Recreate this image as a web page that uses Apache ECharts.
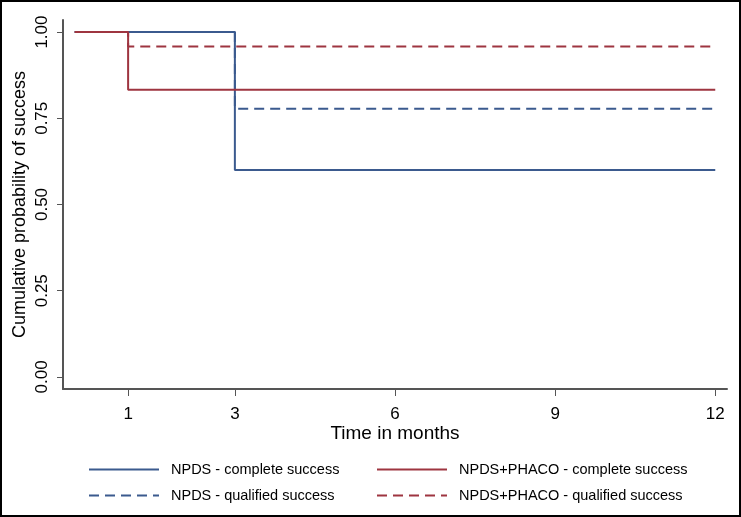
<!DOCTYPE html>
<html>
<head>
<meta charset="utf-8">
<script src="https://cdn.jsdelivr.net/npm/echarts@6/dist/echarts.min.js"></script>
<style>
html,body{margin:0;padding:0;background:#fff;}
#c{width:741px;height:517px;}
</style>
</head>
<body>
<div id="c"></div>
<script>
// Data (Kaplan-Meier step points: [time in months, probability])
const seriesNames = [
  'NPDS - complete success',
  'NPDS+PHACO - complete success',
  'NPDS - qualified success',
  'NPDS+PHACO - qualified success'
];
const npdsCompleteTimes = [0, 3, 12];
const npdsCompleteVals = [1.0, 0.600, 0.600];
const phacoCompleteTimes = [0, 1, 12];
const phacoCompleteVals = [1.0, 0.833, 0.833];
const npdsQualifiedTimes = [0, 3, 12];
const npdsQualifiedVals = [1.0, 0.778, 0.778];
const phacoQualifiedTimes = [0, 1, 12];
const phacoQualifiedVals = [1.0, 0.958, 0.958];
const xTicks = [1, 3, 6, 9, 12];
const yTicks = [0, 0.25, 0.5, 0.75, 1];

const BLUE = '#3b5a8e';
const RED = '#9e3540';
const FONT = 'Liberation Sans, Arial, sans-serif';

function pairs(t, v) { return t.map((x, i) => [x, v[i]]); }

function mkSeries(name, t, v, color, dashed) {
  return {
    name: name,
    type: 'line',
    step: 'end',
    symbol: 'none',
    showSymbol: false,
    silent: true,
    animation: false,
    data: pairs(t, v),
    lineStyle: { color: color, width: 2, type: dashed ? [10, 6] : 'solid' },
    itemStyle: { color: color }
  };
}

function mkLegend(name, left, top) {
  return {
    data: [name],
    left: left,
    top: top,
    itemWidth: 70,
    itemHeight: 14,
    selectedMode: false,
    padding: 0,
    itemStyle: { opacity: 0 },
    textStyle: { fontFamily: FONT, fontSize: 14.5, color: '#000', padding: [0, 0, 0, 7] }
  };
}

const chart = echarts.init(document.getElementById('c'), null, { renderer: 'canvas' });
chart.setOption({
  backgroundColor: '#fff',
  animation: false,
  grid: { left: 63, right: 14, top: 20, bottom: 128, containLabel: false },
  xAxis: {
    type: 'value',
    min: -0.22,
    max: 12.22,
    name: 'Time in months',
    nameLocation: 'middle',
    nameGap: 35,
    nameMoveOverlap: false,
    nameTextStyle: { fontFamily: FONT, fontSize: 19, color: '#000' },
    axisLine: { show: true, onZero: false, lineStyle: { color: '#555', width: 2 } },
    axisTick: { show: true, length: 7, customValues: xTicks, lineStyle: { color: '#555', width: 1 } },
    axisLabel: { customValues: xTicks, margin: 17, fontFamily: FONT, fontSize: 17, color: '#000' },
    splitLine: { show: false }
  },
  yAxis: {
    type: 'value',
    min: -0.035,
    max: 1.035,
    name: 'Cumulative probability of success',
    nameLocation: 'middle',
    nameGap: 34,
    nameMoveOverlap: false,
    nameTextStyle: { fontFamily: FONT, fontSize: 18, color: '#000' },
    axisLine: { show: true, onZero: false, lineStyle: { color: '#555', width: 2 } },
    axisTick: { show: true, length: 6, customValues: yTicks, lineStyle: { color: '#555', width: 1 } },
    axisLabel: {
      customValues: yTicks, rotate: 90, margin: 12,
      fontFamily: FONT, fontSize: 17, color: '#000',
      formatter: v => Number(v).toFixed(2)
    },
    splitLine: { show: false }
  },
  legend: [
    mkLegend(seriesNames[0], 88, 462),
    mkLegend(seriesNames[1], 376, 462),
    mkLegend(seriesNames[2], 88, 488),
    mkLegend(seriesNames[3], 376, 488)
  ],
  graphic: [{
    type: 'rect',
    shape: { x: 1, y: 1, width: 739, height: 515 },
    style: { fill: null, stroke: '#000', lineWidth: 2 },
    silent: true,
    z: 100
  }],
  series: [
    mkSeries(seriesNames[2], npdsQualifiedTimes, npdsQualifiedVals, BLUE, true),
    mkSeries(seriesNames[3], phacoQualifiedTimes, phacoQualifiedVals, RED, true),
    mkSeries(seriesNames[0], npdsCompleteTimes, npdsCompleteVals, BLUE, false),
    mkSeries(seriesNames[1], phacoCompleteTimes, phacoCompleteVals, RED, false)
  ]
});
</script>
</body>
</html>
